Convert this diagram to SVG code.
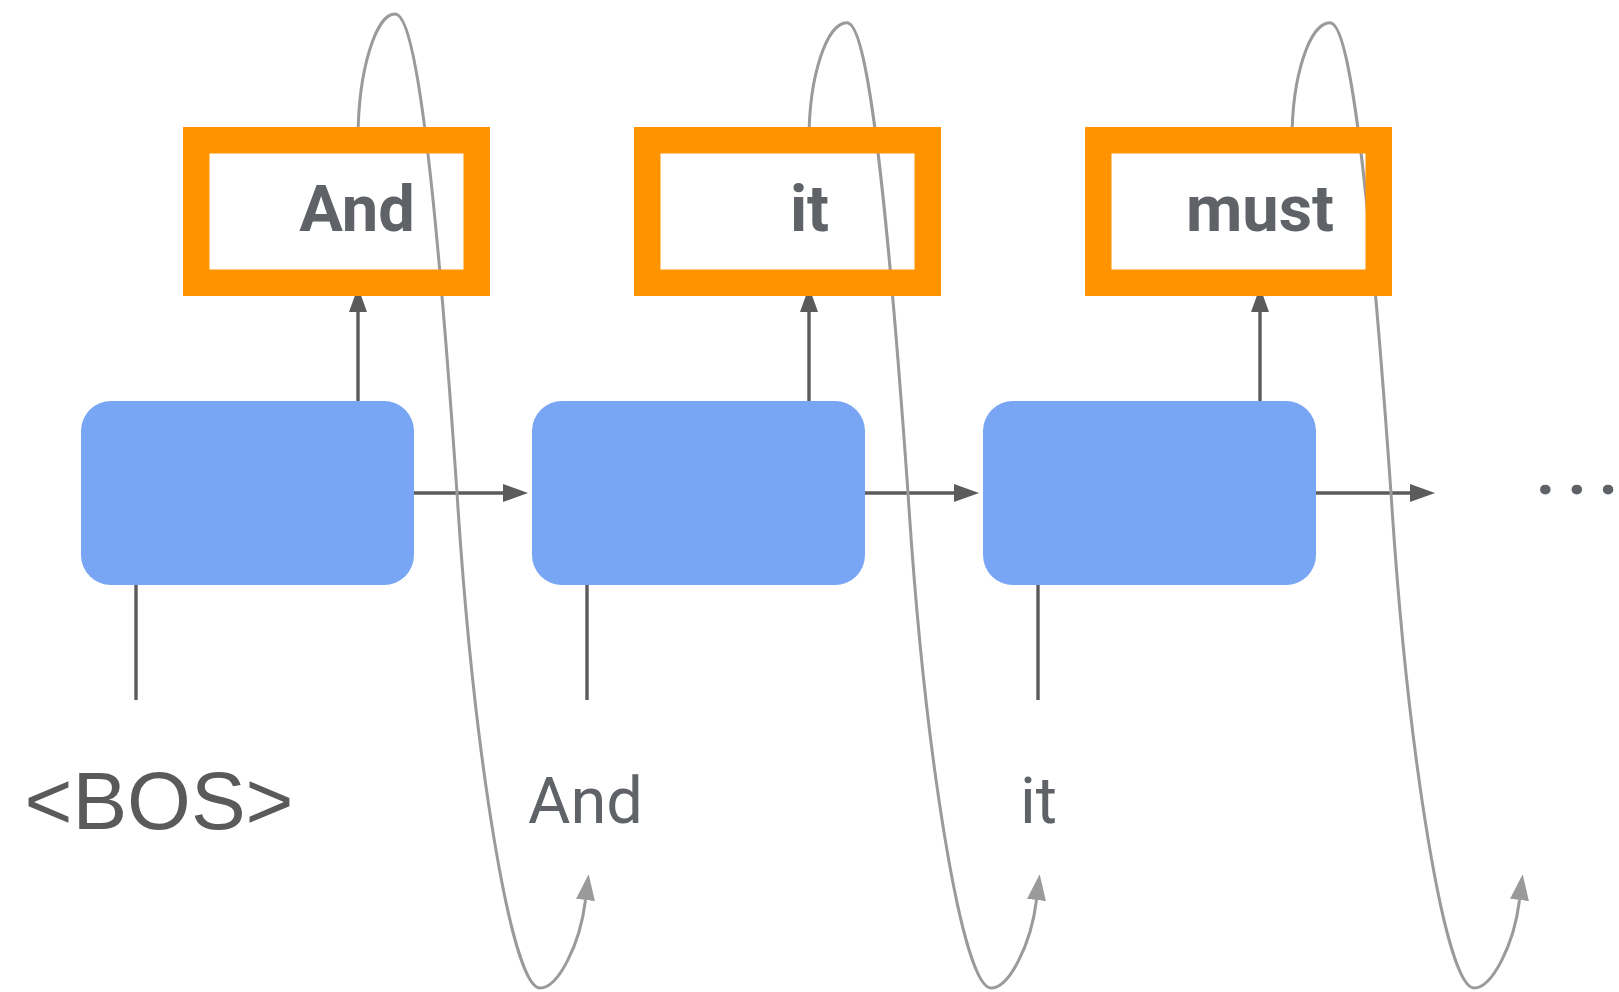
<svg xmlns="http://www.w3.org/2000/svg" width="1619" height="992" viewBox="0 0 1619 992">
  <style>
    .cell { fill: #78a6f5; }
    .out { fill: none; stroke: #ff9400; stroke-width: 26.5; }
    .wire { fill: none; stroke: #5b5b5b; stroke-width: 3.4; }
    .feed { fill: none; stroke: #9a9a9a; stroke-width: 3; }
    .tok { font-family: Roboto, "Liberation Sans", sans-serif; font-size: 65px; fill: #5f6368; text-anchor: middle; }
    .tok-b { font-weight: 700; }
    .bos { font-family: "Liberation Sans", Arial, sans-serif; font-size: 82px; fill: #5a5a5a; text-anchor: middle; }
    .ellipsis { font-family: Roboto, "Liberation Sans", sans-serif; font-size: 66px; font-weight: 700; fill: #5f6368; }
  </style>
  <defs>
    <marker id="arrow-dark" markerUnits="userSpaceOnUse" markerWidth="26" markerHeight="20" viewBox="0 -10 26 20" refX="0" refY="0" orient="auto">
      <path d="M0,-9 L25,0 L0,9 z" fill="#5b5b5b"/>
    </marker>
    <marker id="arrow-grey" markerUnits="userSpaceOnUse" markerWidth="28" markerHeight="22" viewBox="0 -11 28 22" refX="0" refY="0" orient="auto">
      <path d="M0,-9.5 L26,0 L0,9.5 z" fill="#9a9a9a"/>
    </marker>
  </defs>

  <rect width="1619" height="992" fill="#ffffff"/>

  <!-- connectors: inputs, outputs, recurrent links, fed-back tokens -->
  <g id="connectors">
    <!-- input stubs -->
    <path class="wire" d="M136,585 V700"/>
    <path class="wire" d="M587,585 V700"/>
    <path class="wire" d="M1038,585 V700"/>
    <!-- outputs up to the predicted tokens -->
    <path class="wire" d="M358,401 V312" marker-end="url(#arrow-dark)"/>
    <path class="wire" d="M809,401 V312" marker-end="url(#arrow-dark)"/>
    <path class="wire" d="M1260,401 V312" marker-end="url(#arrow-dark)"/>
    <!-- hidden state passed along -->
    <path class="wire" d="M414,493 H503" marker-end="url(#arrow-dark)"/>
    <path class="wire" d="M865,493 H954" marker-end="url(#arrow-dark)"/>
    <path class="wire" d="M1316,493 H1410" marker-end="url(#arrow-dark)"/>
    <!-- each prediction looped back as the next input -->
    <path class="feed" d="M358,140 C358,70 376,14 395,14 C415,14 434,160 457,493 C474,760 512,988 540,988 C558,988 580,945 585.5,900" marker-end="url(#arrow-grey)"/>
    <path class="feed" d="M809,140 C809,75 827,22.7 847,22.7 C866,22.7 885,168 908,493 C925,760 963,988 991,988 C1009,988 1031,945 1036.5,900" marker-end="url(#arrow-grey)"/>
    <path class="feed" d="M1292,140 C1292,75 1310,22.7 1330,22.7 C1349,22.7 1368,168 1391,493 C1408,760 1446,988 1474,988 C1492,988 1514,945 1519.5,900" marker-end="url(#arrow-grey)"/>
  </g>

  <!-- recurrent cells -->
  <g id="cell-1"><rect class="cell" x="81" y="401" width="333" height="184" rx="30"/></g>
  <g id="cell-2"><rect class="cell" x="532" y="401" width="333" height="184" rx="30"/></g>
  <g id="cell-3"><rect class="cell" x="983" y="401" width="333" height="184" rx="30"/></g>

  <!-- predicted tokens -->
  <g id="out-1">
    <rect class="out" x="196.25" y="140.25" width="280.5" height="142.5"/>
    <text class="tok tok-b" x="357" y="231">And</text>
  </g>
  <g id="out-2">
    <rect class="out" x="647.25" y="140.25" width="280.5" height="142.5"/>
    <text class="tok tok-b" x="809.5" y="231">it</text>
  </g>
  <g id="out-3">
    <rect class="out" x="1098.25" y="140.25" width="280.5" height="142.5"/>
    <text class="tok tok-b" x="1260" y="231">must</text>
  </g>

  <!-- input tokens -->
  <g id="in-1"><text class="bos" x="159" y="829">&lt;BOS&gt;</text></g>
  <g id="in-2"><text class="tok" x="585.5" y="823">And</text></g>
  <g id="in-3"><text class="tok" x="1038.5" y="823">it</text></g>

  <g id="more"><text class="ellipsis" x="1536" y="494" textLength="82" lengthAdjust="spacing">. . .</text></g>
</svg>
